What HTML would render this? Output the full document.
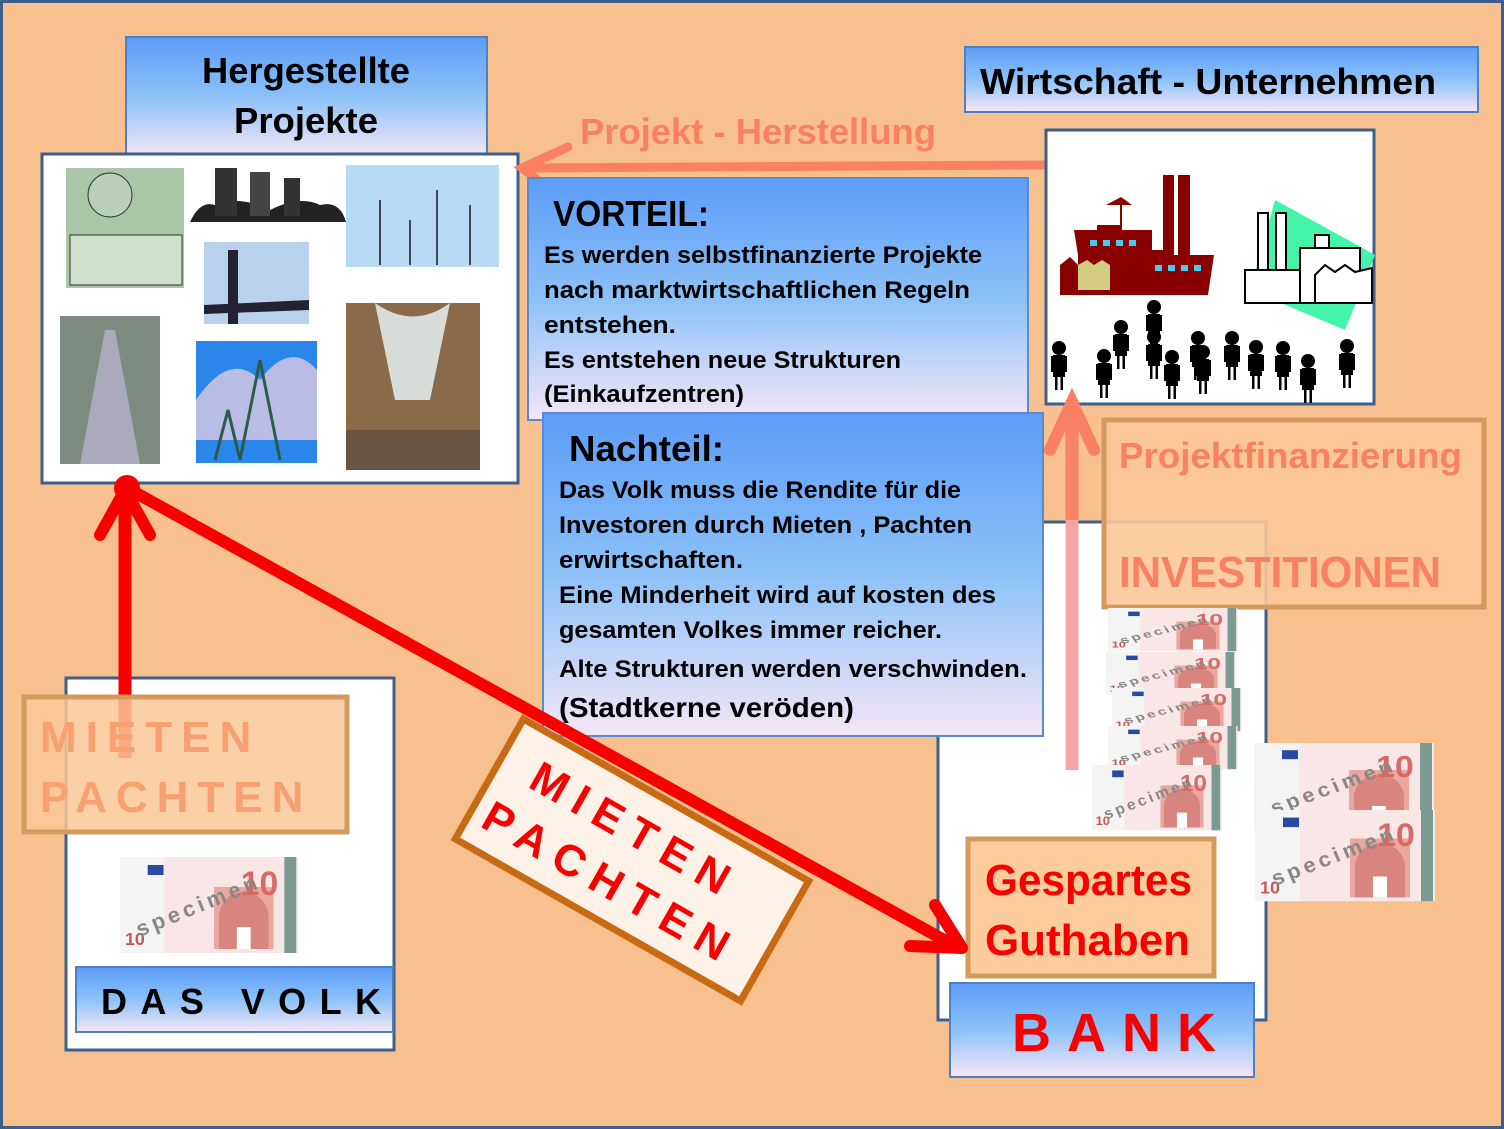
<!DOCTYPE html>
<html><head><meta charset="utf-8"><style>
html,body{margin:0;padding:0;background:#f8c08f}
svg{display:block}
text{font-family:"Liberation Sans",sans-serif;font-weight:bold}
</style></head><body>
<svg width="1504" height="1129" viewBox="0 0 1504 1129" xmlns="http://www.w3.org/2000/svg">
<defs>
<linearGradient id="bl" x1="0" y1="0" x2="0" y2="1"><stop offset="0" stop-color="#5c9cf8"/><stop offset="0.5" stop-color="#8cc2f8"/><stop offset="1" stop-color="#f6e6f6"/></linearGradient>
<g id="bill">
<rect x="0" y="0" width="180" height="96" fill="#f9e6e6"/>
<rect x="0" y="0" width="45" height="96" fill="#f4f4f4"/>
<rect x="28" y="8" width="16" height="10" fill="#2a4aa0"/>
<rect x="95" y="30" width="60" height="62" fill="#e9a7a0"/>
<path d="M100 92 V60 A25 25 0 0 1 150 60 V92" fill="#d7857e"/>
<rect x="118" y="70" width="14" height="22" fill="#fff"/>
<text x="122" y="38" font-size="34" fill="#d86a63">10</text>
<rect x="166" y="0" width="12" height="96" fill="#7c9a94"/>
<text x="5" y="88" font-size="18" fill="#c25a55">10</text>
<text x="20" y="80" font-size="22" fill="#888" font-weight="normal" transform="rotate(-22 20 80)" letter-spacing="4">specimen</text>
</g>
<g id="p"><circle cx="0" cy="0" r="7" fill="#000"/><rect x="-6" y="7" width="12" height="22" fill="#000"/><rect x="-8" y="8" width="2" height="16" fill="#000"/><rect x="6" y="8" width="2" height="16" fill="#000"/><rect x="-4" y="28" width="2.5" height="14" fill="#000"/><rect x="1.5" y="28" width="2.5" height="14" fill="#000"/></g>
</defs>
<rect x="1.5" y="1.5" width="1501" height="1126" fill="#f8c08f" stroke="#3b5f8f" stroke-width="3"/>

<rect x="126" y="37" width="361" height="120" fill="url(#bl)" stroke="#4f7fc0" stroke-width="2"/>
<text x="306" y="83" font-size="36" text-anchor="middle" textLength="208" lengthAdjust="spacingAndGlyphs">Hergestellte</text>
<text x="306" y="133" font-size="36" text-anchor="middle" textLength="144" lengthAdjust="spacingAndGlyphs">Projekte</text>

<rect x="42" y="154" width="476" height="329" fill="#fff" stroke="#3b5f8f" stroke-width="3"/>
<rect x="66" y="168" width="118" height="120" fill="#a9c7a6"/>
<rect x="70" y="235" width="112" height="50" fill="#cfe0cc" stroke="#333"/>
<circle cx="110" cy="195" r="22" fill="#b9cfbb" stroke="#333"/>
<rect x="190" y="163" width="156" height="62" fill="#fff"/>
<path d="M190 222 Q200 200 215 205 Q240 195 270 210 Q300 195 320 205 Q340 200 346 222Z" fill="#222"/>
<rect x="215" y="168" width="22" height="48" fill="#333"/><rect x="250" y="172" width="20" height="44" fill="#444"/><rect x="284" y="178" width="16" height="38" fill="#333"/>
<rect x="346" y="165" width="153" height="102" fill="#b7dbf5"/>
<g stroke="#445" stroke-width="2"><line x1="380" y1="200" x2="380" y2="265"/><line x1="437" y1="190" x2="437" y2="265"/><line x1="470" y1="205" x2="470" y2="265"/><line x1="410" y1="220" x2="410" y2="265"/></g>
<rect x="204" y="242" width="105" height="82" fill="#b8d2ee"/>
<path d="M204 305 L309 300 L309 310 L204 314Z" fill="#223"/><rect x="228" y="250" width="10" height="74" fill="#223"/>
<rect x="60" y="316" width="100" height="148" fill="#7d8a7f"/>
<path d="M80 464 L105 330 L115 330 L140 464Z" fill="#aab"/>
<rect x="196" y="341" width="121" height="122" fill="#2a86e8"/>
<path d="M196 400 Q230 350 260 380 Q290 340 317 370 V440 H196Z" fill="#b9bde6"/>
<g stroke="#2d5a4a" stroke-width="3" fill="none"><path d="M240 460 L260 360 L280 460"/><path d="M215 460 L228 410 L240 460"/></g>
<rect x="346" y="303" width="134" height="167" fill="#8a6a4a"/>
<path d="M375 303 Q413 330 450 303 L430 400 L395 400Z" fill="#d8dcd8"/>
<rect x="346" y="430" width="134" height="40" fill="#6a5444"/>

<line x1="1046" y1="165" x2="530" y2="168" stroke="#f98060" stroke-width="9"/>
<path d="M568 147 L522 168 L545 186" fill="none" stroke="#f98060" stroke-width="9" stroke-linecap="round"/>
<text x="580" y="144" font-size="36" fill="#f98060" textLength="356" lengthAdjust="spacingAndGlyphs">Projekt - Herstellung</text>

<rect x="965" y="47" width="513" height="65" fill="url(#bl)" stroke="#4f7fc0" stroke-width="2"/>
<text x="980" y="94" font-size="36" textLength="456" lengthAdjust="spacingAndGlyphs">Wirtschaft - Unternehmen</text>
<rect x="1046" y="130" width="328" height="274" fill="#fff" stroke="#3b5f8f" stroke-width="3"/>
<path d="M1060 295 V265 L1070 257 L1078 265 V255 L1074 230 H1097 V225 H1120 V205 L1106 205 L1121 197 L1132 205 H1122 V230 H1152 V250 H1163 V175 H1174 V255 H1178 V175 H1190 V255 H1214 L1208 295Z" fill="#880000"/>
<path d="M1078 290 V265 L1087 260 L1094 265 L1102 260 L1110 265 V290Z" fill="#d4cc80"/>
<g fill="#44ccf4"><rect x="1090" y="240" width="7" height="6"/><rect x="1103" y="240" width="7" height="6"/><rect x="1116" y="240" width="7" height="6"/><rect x="1129" y="240" width="7" height="6"/><rect x="1155" y="265" width="7" height="6"/><rect x="1168" y="265" width="7" height="6"/><rect x="1181" y="265" width="7" height="6"/><rect x="1194" y="265" width="7" height="6"/></g>
<path d="M1275 200 Q1330 230 1375 255 L1345 330 L1250 290Z" fill="#44f4a8"/>
<g fill="#fff" stroke="#000" stroke-width="2"><rect x="1258" y="213" width="10" height="60"/><rect x="1276" y="213" width="10" height="60"/><rect x="1245" y="270" width="55" height="33"/><rect x="1300" y="248" width="60" height="55"/><rect x="1315" y="235" width="14" height="13"/><path d="M1315 303 V275 L1325 265 L1335 272 L1345 265 L1355 272 L1372 268 V303Z"/></g>

<g>
<use href="#p" x="1059" y="348"/><use href="#p" x="1104" y="356"/><use href="#p" x="1121" y="327"/><use href="#p" x="1154" y="307"/><use href="#p" x="1154" y="337"/><use href="#p" x="1172" y="357"/><use href="#p" x="1198" y="338"/><use href="#p" x="1203" y="352"/><use href="#p" x="1232" y="338"/><use href="#p" x="1256" y="347"/><use href="#p" x="1283" y="348"/><use href="#p" x="1308" y="361"/><use href="#p" x="1347" y="346"/>
</g>

<rect x="528" y="178" width="500" height="242" fill="url(#bl)" stroke="#5a8ad0" stroke-width="2"/>
<text x="553" y="226" font-size="36" textLength="156" lengthAdjust="spacingAndGlyphs">VORTEIL:</text>
<g font-size="24"><text x="544" y="263" textLength="438" lengthAdjust="spacingAndGlyphs">Es werden selbstfinanzierte Projekte</text>
<text x="544" y="298" textLength="426" lengthAdjust="spacingAndGlyphs">nach marktwirtschaftlichen  Regeln</text>
<text x="544" y="333" textLength="132" lengthAdjust="spacingAndGlyphs">entstehen.</text>
<text x="544" y="368" textLength="357" lengthAdjust="spacingAndGlyphs">Es entstehen neue Strukturen</text>
<text x="544" y="402" textLength="200" lengthAdjust="spacingAndGlyphs">(Einkaufzentren)</text></g>

<rect x="938" y="522" width="328" height="498" fill="#fff" stroke="#3b5f8f" stroke-width="3"/>

<rect x="543" y="413" width="500" height="323" fill="url(#bl)" stroke="#5a8ad0" stroke-width="2"/>
<text x="569" y="461" font-size="36" textLength="155" lengthAdjust="spacingAndGlyphs">Nachteil:</text>
<g font-size="24"><text x="559" y="498" textLength="402" lengthAdjust="spacingAndGlyphs">Das Volk muss die Rendite für die</text>
<text x="559" y="533" textLength="413" lengthAdjust="spacingAndGlyphs">Investoren durch Mieten , Pachten</text>
<text x="559" y="568" textLength="184" lengthAdjust="spacingAndGlyphs">erwirtschaften.</text>
<text x="559" y="603" textLength="437" lengthAdjust="spacingAndGlyphs">Eine Minderheit wird auf kosten des</text>
<text x="559" y="638" textLength="383" lengthAdjust="spacingAndGlyphs">gesamten Volkes immer reicher.</text>
<text x="559" y="677" textLength="468" lengthAdjust="spacingAndGlyphs">Alte Strukturen werden verschwinden.</text>
<text x="559" y="717" font-size="28" textLength="295" lengthAdjust="spacingAndGlyphs">(Stadtkerne veröden)</text></g>

<line x1="1072" y1="770" x2="1072" y2="420" stroke="#f8a4a4" stroke-width="13"/>
<line x1="1072" y1="520" x2="1072" y2="400" stroke="#f98060" stroke-width="13" opacity="0.9"/>
<path d="M1050 450 L1072 402 L1094 450" fill="none" stroke="#f98060" stroke-width="12" stroke-linecap="round"/>

<rect x="1104" y="420" width="380" height="187" fill="#fbc898" fill-opacity="0.9" stroke="#d49a5c" stroke-width="5"/>
<text x="1119" y="468" font-size="36" fill="#f98060" textLength="343" lengthAdjust="spacingAndGlyphs">Projektfinanzierung</text>
<text x="1119" y="587" font-size="44" fill="#f98060" textLength="322" lengthAdjust="spacingAndGlyphs">INVESTITIONEN</text>

<use href="#bill" transform="translate(1108,608) scale(0.72,0.45)"/>
<use href="#bill" transform="translate(1106,652) scale(0.72,0.45)"/>
<use href="#bill" transform="translate(1112,688) scale(0.72,0.45)"/>
<use href="#bill" transform="translate(1108,726) scale(0.72,0.45)"/>
<use href="#bill" transform="translate(1092,765) scale(0.72,0.68)"/>
<use href="#bill" transform="translate(1254,743) scale(1.0,0.9)"/>
<use href="#bill" transform="translate(1255,810) scale(1.0,0.95)"/>

<rect x="968" y="839" width="246" height="137" fill="#fccc9c" stroke="#d49a5c" stroke-width="5"/>
<text x="985" y="895" font-size="44" fill="#f80000" textLength="207" lengthAdjust="spacingAndGlyphs">Gespartes</text>
<text x="985" y="955" font-size="44" fill="#f80000" textLength="205" lengthAdjust="spacingAndGlyphs">Guthaben</text>

<rect x="950" y="983" width="304" height="94" fill="url(#bl)" stroke="#4f7fc0" stroke-width="2"/>
<text x="1012" y="1051" font-size="54" fill="#f80000" textLength="204" lengthAdjust="spacing">BANK</text>

<rect x="66" y="678" width="328" height="372" fill="#fff" stroke="#3b5f8f" stroke-width="3"/>
<use href="#bill" transform="translate(120,857) scale(0.99,1.0)"/>
<rect x="76" y="967" width="317" height="65" fill="url(#bl)" stroke="#4f7fc0" stroke-width="2"/>
<text x="101" y="1014" font-size="36" textLength="280" lengthAdjust="spacing">DAS  VOLK</text>

<line x1="125" y1="758" x2="125" y2="500" stroke="#f80000" stroke-width="13"/>
<path d="M100 535 L125 490 L150 535" fill="none" stroke="#f80000" stroke-width="12" stroke-linecap="round"/>
<circle cx="127" cy="488" r="13" fill="#f80000"/>
<line x1="127" y1="488" x2="955" y2="946" stroke="#f80000" stroke-width="12"/>
<path d="M935 905 L962 948 L910 946" fill="none" stroke="#f80000" stroke-width="12" stroke-linecap="round" stroke-linejoin="round"/>

<rect x="24" y="697" width="323" height="135" fill="#fcc898" fill-opacity="0.85" stroke="#d49a5c" stroke-width="5"/>
<text x="40" y="752" font-size="44" fill="#f8a070" letter-spacing="9">MIETEN</text>
<text x="40" y="812" font-size="44" fill="#f8a070" letter-spacing="9">PACHTEN</text>

<g transform="translate(632,860) rotate(29.6)">
<rect x="-164" y="-69" width="328" height="138" fill="#fdf1e8" stroke="#c86a14" stroke-width="7"/>
<text x="-128" y="-12" font-size="44" fill="#f80000" letter-spacing="11">MIETEN</text>
<text x="-150" y="46" font-size="44" fill="#f80000" letter-spacing="11">PACHTEN</text>
</g>
</svg>
</body></html>
